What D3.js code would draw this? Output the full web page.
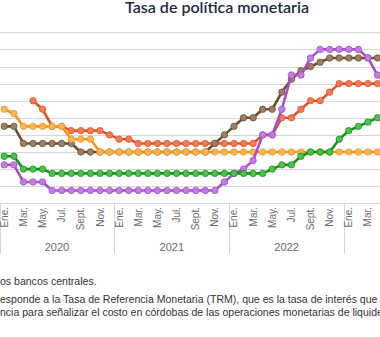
<!DOCTYPE html>
<html>
<head>
<meta charset="utf-8">
<script src="https://cdn.jsdelivr.net/npm/d3@7"></script>
<style>
  body { margin: 0; background: #fff; }
  svg  { display: block; }
</style>
</head>
<body>
<svg width="380" height="337"></svg>
<script>
// meses de ene. 2020 a may. 2023 (indice 0..40)
const monthNames = ["Ene.", "Feb.", "Mar.", "Abr.", "May.", "Jun.", "Jul.", "Ago.", "Sept.", "Oct.", "Nov.", "Dic."];
const years      = ["2020", "2021", "2022", "2023"];
const yTicks     = [0, 1, 2, 3, 4, 5, 6, 7, 8, 9, 10];

const naranja = [5.5, 5.25, 4.5, 4.5, 4.5, 4.5, 4.5, 3.75, 3.75, 3.75, 3.0, 3.0,
                 3.0, 3.0, 3.0, 3.0, 3.0, 3.0, 3.0, 3.0, 3.0, 3.0, 3.0, 3.0,
                 3.0, 3.0, 3.0, 3.0, 3.0, 3.0, 3.0, 3.0, 3.0, 3.0, 3.0, 3.0,
                 3.0, 3.0, 3.0, 3.0, 3.0];
const rojo    = [null, null, null, 6.0, 5.5, 4.5, 4.5, 4.25, 4.25, 4.25, 4.25, 4.0,
                 3.75, 3.75, 3.5, 3.5, 3.5, 3.5, 3.5, 3.5, 3.5, 3.5, 3.5, 3.5,
                 3.5, 3.5, 3.5, 4.0, 4.0, 5.0, 5.0, 5.5, 6.0, 6.0, 6.5, 7.0,
                 7.0, 7.0, 7.0, 7.0, 7.0];
const cafe    = [4.5, 4.5, 3.5, 3.5, 3.5, 3.5, 3.5, 3.5, 3.0, 3.0, 3.0, 3.0,
                 3.0, 3.0, 3.0, 3.0, 3.0, 3.0, 3.0, 3.0, 3.0, 3.0, 3.5, 4.0,
                 4.5, 5.0, 5.0, 5.5, 5.5, 6.5, 7.25, 7.75, 8.0, 8.25, 8.5, 8.5,
                 8.5, 8.5, 8.5, 8.5, 8.5];
const verde   = [2.75, 2.75, 2.0, 2.0, 2.0, 1.75, 1.75, 1.75, 1.75, 1.75, 1.75, 1.75,
                 1.75, 1.75, 1.75, 1.75, 1.75, 1.75, 1.75, 1.75, 1.75, 1.75, 1.75, 1.75,
                 1.75, 1.75, 1.75, 1.75, 2.0, 2.25, 2.25, 2.75, 3.0, 3.0, 3.0, 3.75,
                 4.25, 4.5, 4.75, 5.0, 5.0];
const morado  = [2.25, 2.25, 1.25, 1.25, 1.25, 0.75, 0.75, 0.75, 0.75, 0.75, 0.75, 0.75,
                 0.75, 0.75, 0.75, 0.75, 0.75, 0.75, 0.75, 0.75, 0.75, 0.75, 0.75, 1.25,
                 1.75, 2.0, 2.5, 4.0, 4.0, 5.5, 7.5, 7.5, 8.5, 9.0, 9.0, 9.0,
                 9.0, 9.0, 8.5, 7.5, 7.0];

const title = "Tasa de política monetaria";
const notas = [
  "os bancos centrales.",
  "esponde a la Tasa de Referencia Monetaria (TRM), que es la tasa de interés que",
  "ncia para señalizar el costo en córdobas de las operaciones monetarias de liquidez"
];

const series = [
  { values: rojo,    line: "#e0532a", dot: "#f07c55" },
  { values: cafe,    line: "#6b4e2c", dot: "#9d8166" },
  { values: naranja, line: "#f39517", dot: "#f9b45c" },
  { values: morado,  line: "#a550c8", dot: "#c47ce3" },
  { values: verde,   line: "#14921a", dot: "#4fc14f" }
];

const svg   = d3.select("svg");
const width = +svg.attr("width");

const step = 9.57;
const x = d3.scaleLinear().domain([0, 39]).range([4.3, 4.3 + step * 39]);
const y = d3.scaleLinear().domain([0, 10]).range([203.3, 32.3]);

// rejilla
svg.append("g")
  .selectAll("line")
  .data(yTicks)
  .join("line")
    .attr("x1", -20)
    .attr("x2", 400)
    .attr("y1", d => Math.round(y(d)) + 0.5)
    .attr("y2", d => Math.round(y(d)) + 0.5)
    .attr("stroke", "#d6d6d6")
    .attr("stroke-width", 1);

// separadores de año
svg.append("g")
  .selectAll("line")
  .data(years)
  .join("line")
    .attr("x1", (d, i) => Math.round(x(i * 12) - step / 2) + 0.5)
    .attr("x2", (d, i) => Math.round(x(i * 12) - step / 2) + 0.5)
    .attr("y1", y(0))
    .attr("y2", 254)
    .attr("stroke", "#d6d6d6");

// etiquetas de meses (solo las que caben en la vista)
const months = d3.range(0, 41).filter(i => i % 2 === 0 && x(i) + 5 < width);
svg.append("g")
  .selectAll("text")
  .data(months)
  .join("text")
    .attr("transform", i => `translate(${x(i)},207) rotate(-90)`)
    .attr("dy", "0.35em")
    .attr("text-anchor", "end")
    .attr("font-family", "Liberation Sans, Arial, sans-serif")
    .attr("font-size", 10)
    .attr("fill", "#6a6a6a")
    .text(i => monthNames[i % 12]);

svg.append("g")
  .selectAll("text")
  .data(years.filter((d, i) => x(i * 12 + 5.5) + 14 < width))
  .join("text")
    .attr("x", (d, i) => x(i * 12 + 5.5))
    .attr("y", 251)
    .attr("text-anchor", "middle")
    .attr("font-family", "Liberation Sans, Arial, sans-serif")
    .attr("font-size", 11)
    .attr("fill", "#6a6a6a")
    .text(d => d);

// series
const line = d3.line()
  .defined(d => d != null)
  .x((d, i) => x(i))
  .y(d => y(d));

series.forEach(s => {
  const g = svg.append("g");
  g.append("path")
    .attr("d", line(s.values))
    .attr("fill", "none")
    .attr("stroke", s.line)
    .attr("stroke-width", 2.6)
    .attr("stroke-linejoin", "round");
  g.selectAll("circle")
    .data(s.values.map((v, i) => ({ v, i })).filter(d => d.v != null))
    .join("circle")
      .attr("cx", d => x(d.i))
      .attr("cy", d => y(d.v))
      .attr("r", 3.2)
      .attr("fill", s.dot)
      .attr("stroke", s.line)
      .attr("stroke-width", 0.8);
});

// titulo
svg.append("text")
  .attr("x", 125)
  .attr("y", 13)
  .attr("textLength", 184)
  .attr("lengthAdjust", "spacingAndGlyphs")
  .attr("font-family", "Lato, sans-serif")
  .attr("font-weight", 600)
  .attr("font-size", 14.5)
  .attr("fill", "#1d2b47")
  .text(title);

// notas
const foot = svg.append("g")
  .attr("font-family", "Liberation Sans, Arial, sans-serif")
  .attr("fill", "#333");
const rows = foot.selectAll("text")
  .data(notas)
  .join("text")
    .attr("x", 0)
    .attr("y", (d, i) => [285, 303, 316][i])
    .attr("font-size", 10)
    .text(d => d);
const w = rows.nodes()[1].getComputedTextLength();
rows.attr("font-size", 10 * 378 / w);
</script>
</body>
</html>
